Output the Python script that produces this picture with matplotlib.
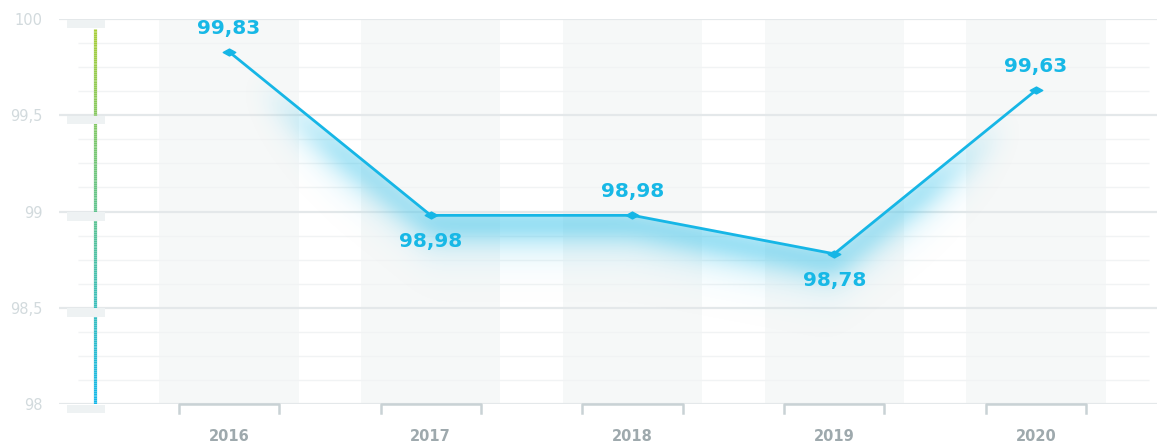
import numpy as np
import matplotlib
matplotlib.use("Agg")
import matplotlib.pyplot as plt
from matplotlib.collections import LineCollection
from matplotlib.path import Path
from matplotlib.colors import to_rgb

# data
years = ["2016", "2017", "2018", "2019", "2020"]
values = [99.83, 98.98, 98.98, 98.78, 99.63]
value_labels = ["99,83", "98,98", "98,98", "98,78", "99,63"]
label_above = [True, False, True, False, True]
y_ticks = [98, 98.5, 99, 99.5, 100]
y_tick_labels = ["98", "98,5", "99", "99,5", "100"]

LINE = "#16b6e6"
W, H = 1157, 446
px_x = 201.75          # pixels per category
px_y = 192.5           # pixels per unit on y

fig = plt.figure(figsize=(W / 100, H / 100), dpi=100)
ax = fig.add_axes([59 / W, (H - 404) / H, (1157 - 59) / W, 385 / H])
x0, x1 = (59 - 229) / px_x, (1157 - 229) / px_x
ax.set_xlim(x0, x1)
ax.set_ylim(98, 100)
x = np.arange(len(years))

# column bands
for i in x:
    ax.axvspan(i - 0.345, i + 0.345, color="#f6f8f8", zorder=0, lw=0)

# grid
minor = [v for v in np.arange(98, 100.01, 0.125) if v not in y_ticks]
ax.hlines(minor, (78 - 229) / px_x, (1149 - 229) / px_x, color="#f1f3f4", lw=1, zorder=1)
ax.hlines(y_ticks, x0, x1, color="#e4e8ea", lw=1.6, zorder=1)

# glow under the line: soft shadow below the line, blurred
ncol, nrow = 1098, 385
gx = np.linspace(x0, x1, ncol)
gy = np.linspace(100, 98, nrow)
yl = np.interp(gx, x, values)
dy = (yl[None, :] - gy[:, None]) * px_y
fade = np.clip((gx - 0.15) / 0.4, 0, 1) * np.clip((3.85 - gx) / 0.4, 0, 1)
mask = np.where(dy > 0, np.exp(-dy / 14.0), 0) * fade[None, :]


def blur(a, sigma):
    k = np.arange(-3 * sigma, 3 * sigma + 1)
    k = np.exp(-0.5 * (k / sigma) ** 2)
    k /= k.sum()
    a = np.apply_along_axis(lambda r: np.convolve(r, k, mode="same"), 1, a)
    return np.apply_along_axis(lambda c: np.convolve(c, k, mode="same"), 0, a)


soft = blur(mask, 12)
alpha = np.clip(soft * 1.35, 0, 1) * np.clip((dy + 2) / 3, 0, 1)
img = np.zeros((nrow, ncol, 4))
img[..., :3] = to_rgb("#2cbfea")
img[..., 3] = alpha
ax.imshow(img, extent=(x0, x1, 98, 100), aspect="auto", zorder=2, interpolation="bilinear")

# line with flat diamond markers
diamond = Path([(-1, 0), (0, 0.55), (1, 0), (0, -0.55), (-1, 0)],
               [Path.MOVETO, Path.LINETO, Path.LINETO, Path.LINETO, Path.CLOSEPOLY])
ax.plot(x, values, color=LINE, lw=2, marker=diamond, markersize=9, zorder=4)

for xi, v, lab, up in zip(x, values, value_labels, label_above):
    ax.annotate(lab, (xi, v), xytext=(0, 17 if up else -19), textcoords="offset points",
                ha="center", va="center", color="#17b8e6", fontsize=14.5,
                fontweight="bold", family="DejaVu Sans", zorder=5)

# gradient vertical line at left
vx = (95 - 229) / px_x
ys = np.linspace(98, 99.95, 200)
segs = [[(vx, ys[i]), (vx, ys[i + 1])] for i in range(len(ys) - 1)]
c_bot, c_top = np.array(to_rgb("#14b8ea")), np.array(to_rgb("#a8ce38"))
t = np.linspace(0, 1, len(segs))[:, None]
ax.add_collection(LineCollection(segs, colors=c_bot * (1 - t) + c_top * t, lw=2.3, zorder=3))

# small blocks at major ticks
for v in y_ticks:
    ax.add_patch(plt.Rectangle(((67 - 229) / px_x, v - 9 / px_y), 38 / px_x, 8.5 / px_y,
                               color="#eef2f3", lw=0, zorder=3, clip_on=False))

# brackets under categories
bh = 9 / px_y
for xi in x:
    ax.plot([xi - 0.248, xi - 0.248, xi + 0.248, xi + 0.248],
            [98 - bh, 98, 98, 98 - bh], color="#c9d2d5", lw=1.8, clip_on=False, zorder=3)

ax.set_yticks(y_ticks, y_tick_labels)
ax.set_xticks(x, years)
ax.tick_params(axis="y", length=0, pad=12, labelsize=10.5, labelcolor="#d2dadd")
ax.tick_params(axis="x", length=0, pad=18, labelsize=10.5, labelcolor="#9ea9ad")
for t_ in ax.get_xticklabels():
    t_.set_fontweight("bold")
for s in ax.spines.values():
    s.set_visible(False)

fig.savefig("out.png", dpi=100)
